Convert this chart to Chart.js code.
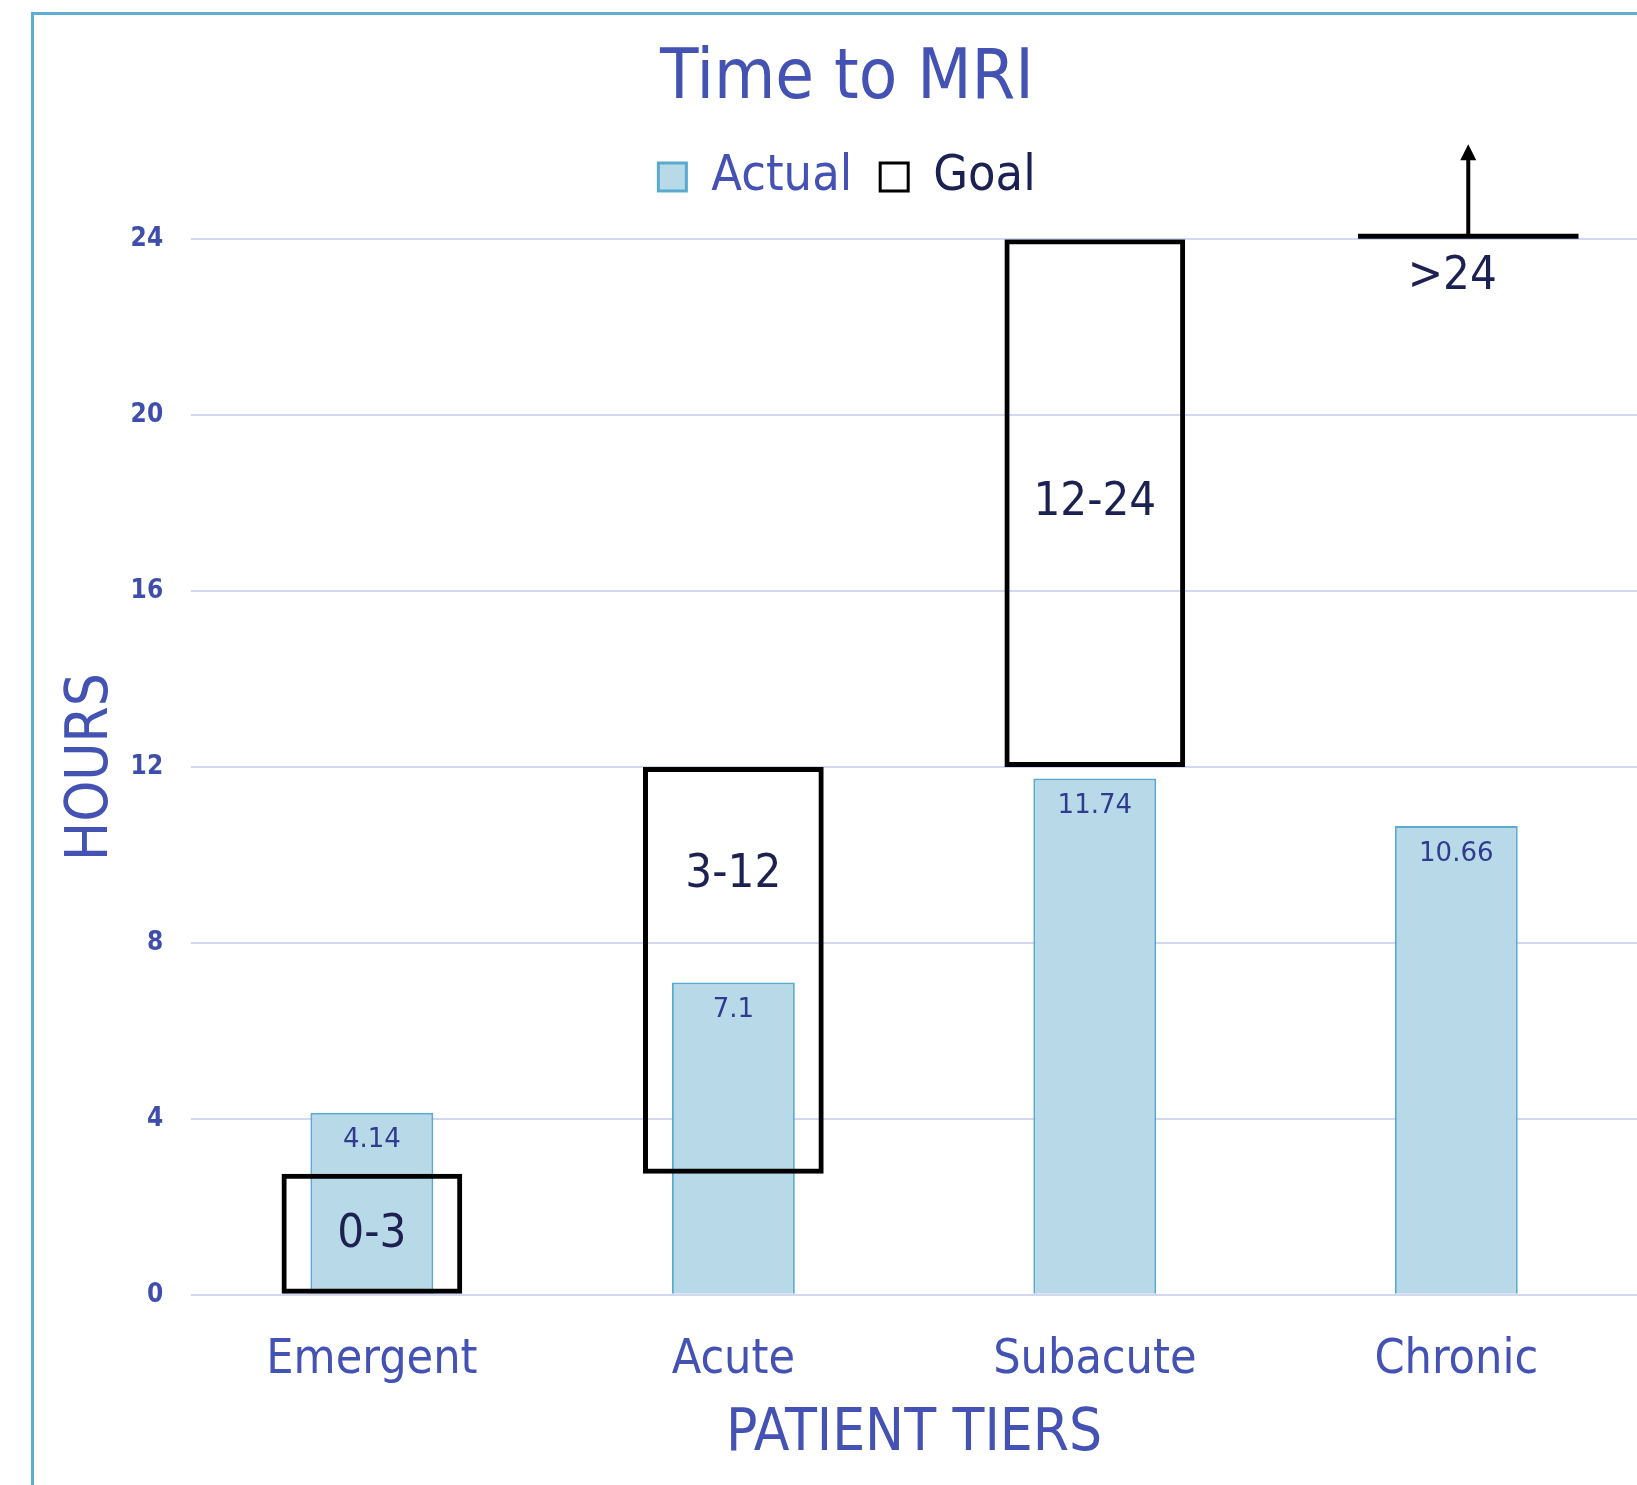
<!DOCTYPE html>
<html>
<head>
<meta charset="utf-8">
<title>Time to MRI</title>
<script src="https://cdn.jsdelivr.net/npm/chart.js@4.4.0/dist/chart.umd.min.js"></script>
<style>
  html, body { margin: 0; padding: 0; background: #fff; }
  #wrap { position: relative; width: 1637px; height: 1485px; overflow: hidden; }
  #frame { position: absolute; left: 31px; top: 12px; width: 1700px; height: 1600px;
           border-top: 3px solid #5eaed2; border-left: 3px solid #5eaed2; }
  canvas { position: absolute; left: 0; top: 0; }
</style>
</head>
<body>
<div id="wrap">
  <div id="frame"></div>
  <canvas id="mri-chart" width="1637" height="1485"></canvas>
</div>
<script>
// chart data
const tiers = ['Emergent', 'Acute', 'Subacute', 'Chronic'];
const actualHours = [4.14, 7.1, 11.74, 10.66];
const goalLow = [0, 2.75, 12, 24];
const goalHigh = [2.75, 12, 24, null]; // null = open ended goal
const goalLabels = ['0-3', '3-12', '12-24', '>24'];
const yTicks = [0, 4, 8, 12, 16, 20, 24];

const blue = '#4352b3';
const condensed = '"DejaVu Sans Condensed", "DejaVu Sans", sans-serif';

// draws value labels, goal labels and the open ended goal arrow
const goalMarks = {
  id: 'goalMarks',
  afterDatasetsDraw(chart) {
    const { ctx, scales: { x, y } } = chart;
    const catWidth = x.width / tiers.length;
    ctx.save();
    ctx.textAlign = 'center';
    ctx.textBaseline = 'middle';

    ctx.font = '26px "DejaVu Sans", sans-serif';
    ctx.fillStyle = '#2f3b8f';
    actualHours.forEach((v, i) => {
      ctx.fillText(String(v), x.getPixelForValue(i), y.getPixelForValue(v) + 28);
    });

    ctx.font = '47px ' + condensed;
    ctx.fillStyle = '#1c2152';
    tiers.forEach((t, i) => {
      const cx = x.getPixelForValue(i);
      if (goalHigh[i] === null) {
        const py = y.getPixelForValue(goalLow[i]) - 3;
        const half = catWidth * 0.305;
        const ax = cx + 12;
        ctx.strokeStyle = '#000';
        ctx.fillStyle = '#000';
        ctx.lineWidth = 5;
        ctx.beginPath();
        ctx.moveTo(cx - half + 12, py);
        ctx.lineTo(cx + half + 12, py);
        ctx.stroke();
        ctx.lineWidth = 4;
        ctx.beginPath();
        ctx.moveTo(ax, py);
        ctx.lineTo(ax, py - 80);
        ctx.stroke();
        ctx.beginPath();
        ctx.moveTo(ax, py - 92);
        ctx.lineTo(ax - 8, py - 76);
        ctx.lineTo(ax + 8, py - 76);
        ctx.closePath();
        ctx.fill();
        ctx.fillStyle = '#1c2152';
        ctx.fillText(goalLabels[i], cx - 4, py + 41);
      } else {
        const top = goalHigh[i];
        const bottom = actualHours[i] < top ? Math.max(goalLow[i], actualHours[i]) : goalLow[i];
        ctx.fillText(goalLabels[i], cx, y.getPixelForValue((top + bottom) / 2));
      }
    });
    ctx.restore();
  }
};

new Chart(document.getElementById('mri-chart'), {
  type: 'bar',
  data: {
    labels: tiers,
    datasets: [{
      label: 'Actual',
      data: actualHours,
      backgroundColor: '#b8d9e8',
      borderColor: '#5aa9cf',
      borderWidth: 2,
      barPercentage: 0.34,
      categoryPercentage: 1,
      grouped: false,
      order: 1
    }, {
      label: 'Goal',
      data: goalLow.map((lo, i) => goalHigh[i] === null ? null : [lo, goalHigh[i]]),
      backgroundColor: 'rgba(0,0,0,0)',
      borderColor: '#000',
      borderWidth: 5,
      borderSkipped: false,
      barPercentage: 0.5,
      categoryPercentage: 1,
      grouped: false,
      order: 0
    }]
  },
  options: {
    responsive: false,
    animation: false,
    layout: { padding: { left: 57, right: 0, top: 0, bottom: 15 } },
    plugins: {
      tooltip: { enabled: false },
      title: {
        display: true,
        text: 'Time to MRI',
        color: blue,
        font: { family: condensed, size: 70, weight: 'normal' },
        padding: { top: 38, bottom: 2 }
      },
      // empty spacer between the legend and the plot
      subtitle: {
        display: true,
        text: '',
        weight: 500,
        font: { size: 1 },
        padding: { top: 26, bottom: 0 }
      },
      legend: {
        position: 'top',
        labels: {
          font: { family: condensed, size: 50 },
          boxWidth: 28,
          boxHeight: 28,
          padding: 28,
          generateLabels: () => [
            { text: 'Actual', fillStyle: '#b8d9e8', strokeStyle: '#5aa9cf', lineWidth: 3, fontColor: blue, datasetIndex: 0 },
            { text: 'Goal', fillStyle: '#fff', strokeStyle: '#000', lineWidth: 3, fontColor: '#1c2152', datasetIndex: 1 }
          ]
        }
      }
    },
    scales: {
      x: {
        grid: { display: false, drawTicks: false },
        border: { display: false },
        ticks: { color: blue, font: { family: condensed, size: 48 }, padding: 36.5 },
        title: {
          display: true, text: 'PATIENT TIERS', color: blue,
          font: { family: condensed, size: 58 }, padding: { top: -25, bottom: 0 }
        }
      },
      y: {
        min: 0,
        max: 24,
        afterBuildTicks: axis => { axis.ticks = yTicks.map(v => ({ value: v })); },
        grid: { color: '#d4d7f0', lineWidth: 2, drawTicks: false },
        border: { display: false },
        ticks: { color: '#3f4eaa', font: { family: condensed, size: 26, weight: 'bold' }, padding: 28 },
        title: {
          display: true, text: 'HOURS', color: blue,
          font: { family: condensed, size: 58 }, padding: { top: 0, bottom: -24 }
        }
      }
    }
  },
  plugins: [goalMarks]
});
</script>
</body>
</html>
